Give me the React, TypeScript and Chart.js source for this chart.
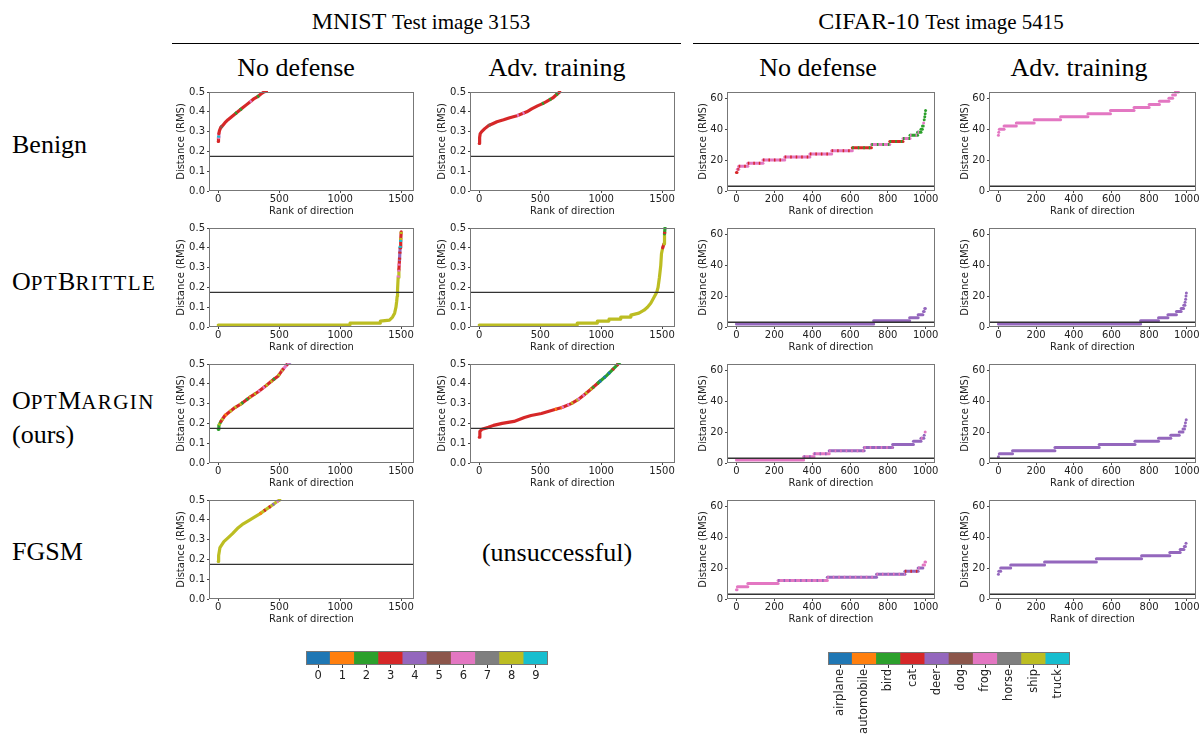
import React, { useEffect, useRef } from 'react';
import { Chart, registerables } from 'chart.js';

// ---------- colours (matplotlib tab10) ----------
const TAB10 = ['#1f77b4', '#ff7f0e', '#2ca02c', '#d62728', '#9467bd', '#8c564b', '#e377c2', '#7f7f7f', '#bcbd22', '#17becf'];

// ---------- axes ----------
const mnistRankTicks = [0, 500, 1000, 1500];
const cifarRankTicks = [0, 200, 400, 600, 800, 1000];
const mnistDistTicks = [0, 0.1, 0.2, 0.3, 0.4, 0.5];
const cifarDistTicks = [0, 20, 40, 60];
const mnistRankRange = [-76, 1606];
const cifarRankRange = [-50, 1049];
const mnistDistRange = [0, 0.5];
const cifarDistRange = [0, 64];
const mnistThreshold = 0.175;
const cifarThreshold = 3.1;

// ---------- MNIST curves: rank, distance, main class of each segment, mixed-in class (-1 none) ----------
const mnistNoDefBenignRank = [0, 2, 5, 10, 20, 35, 55, 80, 110, 140, 170, 200, 230, 260, 290, 320, 350, 375, 395];
const mnistNoDefBenignDist = [0.25, 0.27, 0.29, 0.305, 0.32, 0.33, 0.345, 0.36, 0.375, 0.39, 0.405, 0.42, 0.435, 0.45, 0.465, 0.475, 0.49, 0.5, 0.505];
const mnistNoDefBenignCls = [3, 6, 3, 3, 3, 3, 3, 3, 3, 3, 3, 3, 3, 3, 3, 3, 3, 3];
const mnistNoDefBenignMix = [-1, 9, -1, -1, 5, -1, -1, -1, -1, 2, 2, -1, -1, 6, -1, 2, -1, -1];

const mnistAdvBenignRank = [0, 3, 8, 20, 45, 75, 110, 145, 200, 250, 310, 350, 390, 430, 478, 515, 547, 575, 603, 630, 660];
const mnistAdvBenignDist = [0.24, 0.27, 0.29, 0.3, 0.315, 0.33, 0.34, 0.35, 0.36, 0.37, 0.38, 0.39, 0.4, 0.415, 0.43, 0.44, 0.45, 0.46, 0.47, 0.485, 0.5];
const mnistAdvBenignCls = [3, 3, 3, 3, 3, 3, 3, 3, 3, 3, 3, 3, 3, 3, 3, 3, 3, 3, 3, 3];
const mnistAdvBenignMix = [-1, -1, -1, -1, -1, 5, -1, -1, -1, -1, 6, 6, -1, -1, -1, 2, -1, 2, -1, 2];

const mnistNoDefBrittleRank = [0, 1080, 1082, 1328, 1330, 1405, 1430, 1447, 1458, 1464, 1468, 1471, 1476, 1482, 1487, 1492, 1497, 1501];
const mnistNoDefBrittleDist = [0.01, 0.01, 0.02, 0.02, 0.03, 0.035, 0.05, 0.07, 0.1, 0.13, 0.155, 0.19, 0.25, 0.29, 0.34, 0.4, 0.44, 0.48];
const mnistNoDefBrittleCls = [8, 8, 8, 8, 8, 8, 8, 8, 8, 8, 8, 8, 8, 3, 4, 3, 3];
const mnistNoDefBrittleMix = [-1, -1, -1, -1, -1, -1, -1, -1, -1, -1, -1, -1, 6, 6, 3, 9, 8];

const mnistAdvBrittleRank = [0, 802, 804, 967, 969, 1063, 1065, 1159, 1161, 1242, 1244, 1310, 1352, 1380, 1407, 1434, 1456, 1467, 1478, 1489, 1495, 1505, 1516, 1520, 1524];
const mnistAdvBrittleDist = [0.01, 0.01, 0.02, 0.02, 0.03, 0.03, 0.04, 0.04, 0.05, 0.05, 0.06, 0.07, 0.085, 0.1, 0.12, 0.15, 0.175, 0.2, 0.25, 0.31, 0.37, 0.4, 0.42, 0.47, 0.5];
const mnistAdvBrittleCls = [8, 8, 8, 8, 8, 8, 8, 8, 8, 8, 8, 8, 8, 8, 8, 8, 8, 8, 8, 8, 8, 3, 8, 2];
const mnistAdvBrittleMix = [-1, -1, -1, -1, -1, -1, -1, -1, -1, -1, -1, -1, -1, -1, -1, -1, -1, -1, -1, -1, -1, -1, -1, 3];

const mnistNoDefMarginRank = [0, 5, 22, 55, 96, 137, 191, 254, 328, 391, 451, 492, 527, 568, 590];
const mnistNoDefMarginDist = [0.17, 0.19, 0.21, 0.24, 0.26, 0.28, 0.3, 0.33, 0.36, 0.39, 0.42, 0.44, 0.47, 0.5, 0.51];
const mnistNoDefMarginCls = [2, 2, 3, 3, 3, 3, 3, 3, 3, 3, 3, 3, 6, 4];
const mnistNoDefMarginMix = [-1, 8, 8, 1, 8, 8, 2, 8, 6, 8, 2, 8, 3, 6];

const mnistAdvMarginRank = [0, 5, 22, 75, 117, 188, 285, 370, 425, 510, 565, 620, 678, 755, 810, 872, 930, 986, 1042, 1092, 1140, 1170];
const mnistAdvMarginDist = [0.13, 0.16, 0.17, 0.18, 0.19, 0.2, 0.21, 0.23, 0.24, 0.25, 0.26, 0.27, 0.28, 0.3, 0.32, 0.35, 0.38, 0.41, 0.44, 0.47, 0.5, 0.52];
const mnistAdvMarginCls = [3, 3, 3, 3, 3, 3, 3, 3, 3, 3, 3, 3, 3, 3, 3, 3, 3, 2, 2, 2, 2];
const mnistAdvMarginMix = [-1, -1, -1, -1, -1, -1, -1, -1, -1, -1, -1, 1, 6, 8, 6, 8, 2, 0, 0, 3, -1];

const mnistNoDefFgsmRank = [0, 3, 14, 46, 82, 117, 164, 205, 260, 300, 341, 375, 410, 445, 478, 505];
const mnistNoDefFgsmDist = [0.19, 0.22, 0.26, 0.29, 0.31, 0.33, 0.36, 0.38, 0.4, 0.415, 0.43, 0.445, 0.46, 0.475, 0.49, 0.5];
const mnistNoDefFgsmCls = [8, 8, 8, 8, 8, 8, 8, 8, 8, 8, 8, 8, 8, 8, 8];
const mnistNoDefFgsmMix = [-1, -1, -1, -1, -1, -1, -1, -1, -1, -1, 1, 3, 3, 4, 6];

// ---------- CIFAR-10 steps: [first rank, last rank, distance, class, mixed-in class or -1] ----------
type Step = [number, number, number, number, number];

const cifarNoDefBenign: Step[] = [
  [0, 3, 12, 3, -1], [5, 12, 14, 6, 3], [12, 60, 16, 6, 3], [60, 140, 18, 6, 3], [140, 255, 20, 6, 3],
  [255, 388, 22, 6, 3], [388, 503, 24, 6, 3], [503, 612, 26, 6, 3], [612, 713, 28, 3, 2], [713, 810, 30, 6, 2],
  [810, 880, 32, 3, 2], [880, 917, 34, 6, 2], [917, 957, 36, 2, 6], [957, 975, 38, 2, 6], [975, 982, 40, 2, -1],
  [983, 987, 42, 2, -1], [989, 990, 44, 6, -1], [992, 993, 46, 2, -1], [995, 996, 48, 2, -1], [997, 998, 50, 2, -1], [999, 1000, 52, 2, -1],
];
const cifarAdvBenign: Step[] = [
  [0, 1, 36, 6, -1], [2, 3, 38, 6, -1], [5, 30, 40, 6, -1], [30, 95, 42, 6, -1], [95, 190, 44, 6, -1],
  [190, 330, 46, 6, -1], [330, 475, 48, 6, -1], [475, 595, 50, 6, -1], [595, 720, 52, 6, -1], [720, 800, 54, 6, -1],
  [800, 855, 56, 6, -1], [855, 905, 58, 6, -1], [905, 925, 60, 6, -1], [925, 940, 62, 6, -1], [940, 955, 64, 6, -1],
];
const cifarNoDefBrittle: Step[] = [
  [0, 725, 2, 4, -1], [725, 915, 4, 4, -1], [915, 960, 6, 4, -1], [960, 985, 8, 4, -1], [988, 992, 10, 4, -1], [995, 998, 12, 4, -1],
];
const cifarAdvBrittle: Step[] = [
  [0, 755, 2, 4, -1], [755, 850, 4, 4, -1], [850, 900, 6, 4, -1], [900, 945, 8, 4, -1], [945, 970, 10, 4, -1],
  [970, 983, 12, 4, -1], [984, 990, 14, 4, -1], [991, 993, 16, 4, -1], [994, 995, 18, 4, -1], [996, 997, 20, 4, -1], [998, 999, 22, 4, -1],
];
const cifarNoDefMargin: Step[] = [
  [0, 355, 2, 6, -1], [355, 410, 4, 6, 4], [410, 490, 6, 6, 4], [490, 675, 8, 4, 6], [675, 825, 10, 4, 6],
  [825, 935, 12, 4, -1], [935, 975, 14, 4, -1], [975, 990, 16, 4, 6], [992, 995, 18, 4, -1], [997, 999, 20, 6, -1],
];
const cifarAdvMargin: Step[] = [
  [0, 3, 4, 4, -1], [5, 75, 6, 4, -1], [75, 300, 8, 4, -1], [300, 535, 10, 4, -1], [535, 725, 12, 4, -1],
  [725, 850, 14, 4, -1], [850, 915, 16, 4, -1], [915, 960, 18, 4, -1], [960, 980, 20, 4, -1], [980, 988, 22, 4, -1],
  [989, 992, 24, 4, -1], [993, 995, 26, 4, -1], [997, 999, 28, 4, -1],
];
const cifarNoDefFgsm: Step[] = [
  [0, 3, 6, 6, -1], [5, 60, 8, 6, -1], [60, 220, 10, 6, -1], [220, 480, 12, 6, 4], [480, 740, 14, 4, 6],
  [740, 890, 16, 4, 6], [890, 960, 18, 4, 3], [960, 985, 20, 4, 6], [986, 994, 22, 6, -1], [996, 999, 24, 6, -1],
];
const cifarAdvFgsm: Step[] = [
  [0, 1, 16, 4, -1], [2, 12, 18, 4, -1], [12, 65, 20, 4, -1], [65, 245, 22, 4, -1], [245, 520, 24, 4, -1],
  [520, 760, 26, 4, -1], [760, 910, 28, 4, -1], [910, 965, 30, 4, -1], [965, 985, 32, 4, -1], [987, 993, 34, 4, -1], [996, 999, 36, 4, -1],
];

// ---------- colour bars ----------
const mnistClasses = ['0', '1', '2', '3', '4', '5', '6', '7', '8', '9'];
const cifarClasses = ['airplane', 'automobile', 'bird', 'cat', 'deer', 'dog', 'frog', 'horse', 'ship', 'truck'];
const cellValue = 1;

// ---------- layout ----------
const COL_LEFT = [209, 470, 727, 989];
const COL_W = [205, 205, 208, 207];
const ROW_TOP = [92, 228, 364, 500];
const PLOT_H = 99;
const Y_AXIS_W = 36;
const X_AXIS_H = 26;
const PAD_TOP = 10;
const PAD_RIGHT = 14;

const TICK_FONT = { family: 'DejaVu Sans', size: 10 };
const SERIF = '"Liberation Serif", "DejaVu Serif", serif';
const CLEAR = 'rgba(0,0,0,0)';

const framePlugin = {
  id: 'frame',
  afterDraw(chart: any) {
    const { ctx, chartArea: a } = chart;
    ctx.save();
    ctx.strokeStyle = '#777';
    ctx.lineWidth = 1;
    ctx.strokeRect(Math.round(a.left) + 0.5, Math.round(a.top) + 0.5, Math.round(a.right - a.left) - 1, Math.round(a.bottom - a.top) - 1);
    ctx.restore();
  },
};

Chart.register(...registerables, framePlugin);

interface Curve { rank: number[]; dist: number[]; cls: number[]; mix: number[] }
interface Panel { col: number; row: number; kind: 'mnist' | 'cifar'; curve?: Curve; steps?: Step[] }

const panels: Panel[] = [
  { col: 0, row: 0, kind: 'mnist', curve: { rank: mnistNoDefBenignRank, dist: mnistNoDefBenignDist, cls: mnistNoDefBenignCls, mix: mnistNoDefBenignMix } },
  { col: 1, row: 0, kind: 'mnist', curve: { rank: mnistAdvBenignRank, dist: mnistAdvBenignDist, cls: mnistAdvBenignCls, mix: mnistAdvBenignMix } },
  { col: 2, row: 0, kind: 'cifar', steps: cifarNoDefBenign },
  { col: 3, row: 0, kind: 'cifar', steps: cifarAdvBenign },
  { col: 0, row: 1, kind: 'mnist', curve: { rank: mnistNoDefBrittleRank, dist: mnistNoDefBrittleDist, cls: mnistNoDefBrittleCls, mix: mnistNoDefBrittleMix } },
  { col: 1, row: 1, kind: 'mnist', curve: { rank: mnistAdvBrittleRank, dist: mnistAdvBrittleDist, cls: mnistAdvBrittleCls, mix: mnistAdvBrittleMix } },
  { col: 2, row: 1, kind: 'cifar', steps: cifarNoDefBrittle },
  { col: 3, row: 1, kind: 'cifar', steps: cifarAdvBrittle },
  { col: 0, row: 2, kind: 'mnist', curve: { rank: mnistNoDefMarginRank, dist: mnistNoDefMarginDist, cls: mnistNoDefMarginCls, mix: mnistNoDefMarginMix } },
  { col: 1, row: 2, kind: 'mnist', curve: { rank: mnistAdvMarginRank, dist: mnistAdvMarginDist, cls: mnistAdvMarginCls, mix: mnistAdvMarginMix } },
  { col: 2, row: 2, kind: 'cifar', steps: cifarNoDefMargin },
  { col: 3, row: 2, kind: 'cifar', steps: cifarAdvMargin },
  { col: 0, row: 3, kind: 'mnist', curve: { rank: mnistNoDefFgsmRank, dist: mnistNoDefFgsmDist, cls: mnistNoDefFgsmCls, mix: mnistNoDefFgsmMix } },
  { col: 2, row: 3, kind: 'cifar', steps: cifarNoDefFgsm },
  { col: 3, row: 3, kind: 'cifar', steps: cifarAdvFgsm },
];

function subplotConfig(p: Panel): any {
  const isM = p.kind === 'mnist';
  const xr = isM ? mnistRankRange : cifarRankRange;
  const yr = isM ? mnistDistRange : cifarDistRange;
  const xt = isM ? mnistRankTicks : cifarRankTicks;
  const yt = isM ? mnistDistTicks : cifarDistTicks;
  const thr = isM ? mnistThreshold : cifarThreshold;
  const paint: any[] = [];
  if (p.curve) {
    const { rank, dist, cls, mix } = p.curve;
    const pts = rank.map((r, i) => ({ x: r, y: dist[i] }));
    paint.push({
      data: pts,
      borderColor: TAB10[cls[0]],
      segment: { borderColor: (c: any) => TAB10[cls[c.p0DataIndex]] },
      borderWidth: 3.2, pointRadius: 0, borderCapStyle: 'round', borderJoinStyle: 'round', clip: 1,
    });
    paint.push({
      data: pts,
      borderColor: CLEAR,
      segment: { borderColor: (c: any) => (mix[c.p0DataIndex] >= 0 ? TAB10[mix[c.p0DataIndex]] : CLEAR) },
      borderWidth: 3.2, borderDash: [2, 4], pointRadius: 0, borderCapStyle: 'butt', clip: 1,
    });
  }
  if (p.steps) {
    for (const [s, e, lvl, base, ov] of p.steps) {
      const pts = [{ x: s, y: lvl }, { x: e, y: lvl }];
      paint.push({ data: pts, borderColor: TAB10[base], borderWidth: 3, borderCapStyle: 'round', pointRadius: 0, clip: 1 });
      if (ov >= 0) {
        paint.push({ data: pts, borderColor: TAB10[ov], borderWidth: 3, borderDash: [1.5, 4], borderCapStyle: 'butt', pointRadius: 0, clip: 1 });
      }
    }
  }
  paint.push({ data: [{ x: -5000, y: thr }, { x: 5000, y: thr }], borderColor: '#333', borderWidth: 1.4, pointRadius: 0, clip: 0 });
  return {
    type: 'line',
    data: { datasets: paint.reverse() },
    options: {
      responsive: false,
      animation: false,
      events: [],
      layout: { padding: { top: PAD_TOP, right: PAD_RIGHT, left: 0, bottom: 0 } },
      plugins: { legend: { display: false }, tooltip: { enabled: false } },
      scales: {
        x: {
          type: 'linear', min: xr[0], max: xr[1],
          afterBuildTicks: (s: any) => { s.ticks = xt.map((v) => ({ value: v })); },
          afterFit: (s: any) => { s.height = X_AXIS_H; },
          ticks: { font: TICK_FONT, color: '#222', padding: 0, maxRotation: 0, autoSkip: false, callback: (v: any) => String(v) },
          grid: { drawOnChartArea: false, drawTicks: true, tickLength: 2, color: '#444' },
          border: { display: false },
          title: { display: true, text: 'Rank of direction', font: TICK_FONT, color: '#222', padding: { top: 0, bottom: 0 } },
        },
        y: {
          type: 'linear', min: yr[0], max: yr[1],
          afterBuildTicks: (s: any) => { s.ticks = yt.map((v) => ({ value: v })); },
          afterFit: (s: any) => { s.width = Y_AXIS_W; },
          ticks: { font: TICK_FONT, color: '#222', padding: 2, autoSkip: false, callback: (v: any) => (isM ? Number(v).toFixed(1) : String(v)) },
          grid: { drawOnChartArea: false, drawTicks: true, tickLength: 2, color: '#444' },
          border: { display: false },
          title: { display: true, text: 'Distance (RMS)', font: TICK_FONT, color: '#222', padding: { top: isM ? 2 : 6, bottom: 0 } },
        },
      },
    },
  };
}

function Subplot({ p }: { p: Panel }) {
  const ref = useRef<HTMLCanvasElement>(null);
  const w = Y_AXIS_W + COL_W[p.col] + PAD_RIGHT;
  const h = PAD_TOP + PLOT_H + X_AXIS_H;
  useEffect(() => {
    const chart = new Chart(ref.current as HTMLCanvasElement, subplotConfig(p));
    return () => chart.destroy();
  }, []);
  return (
    <canvas
      ref={ref}
      width={w}
      height={h}
      style={{ position: 'absolute', left: COL_LEFT[p.col] - Y_AXIS_W, top: ROW_TOP[p.row] - PAD_TOP, width: w, height: h }}
    />
  );
}

function ColorBar({ labels, left, top, width, height, rot, axisH }: { labels: string[]; left: number; top: number; width: number; height: number; rot: number; axisH: number }) {
  const ref = useRef<HTMLCanvasElement>(null);
  const padL = 20, padR = 20, padT = 4;
  const w = padL + width + padR;
  const h = padT + height + axisH;
  useEffect(() => {
    const chart = new Chart(ref.current as HTMLCanvasElement, {
      type: 'bar',
      data: {
        labels,
        datasets: [{ data: labels.map(() => cellValue), backgroundColor: TAB10, borderWidth: 0, barPercentage: 1, categoryPercentage: 1 }],
      },
      options: {
        responsive: false,
        animation: false,
        events: [],
        layout: { padding: { left: padL, right: padR, top: padT, bottom: 0 } },
        plugins: { legend: { display: false }, tooltip: { enabled: false } },
        scales: {
          x: {
            type: 'category',
            afterFit: (s: any) => { s.height = axisH; },
            grid: { drawOnChartArea: false, offset: false, drawTicks: true, tickLength: 3, color: '#333' },
            border: { display: false },
            ticks: { font: { family: 'DejaVu Sans', size: 11.5 }, color: '#222', padding: 1, autoSkip: false, minRotation: rot, maxRotation: rot },
          },
          y: { display: false, min: 0, max: 1 },
        },
      } as any,
    });
    return () => chart.destroy();
  }, []);
  return <canvas ref={ref} width={w} height={h} style={{ position: 'absolute', left: left - padL, top: top - padT, width: w, height: h }} />;
}

function Txt({ x, y, size, children, align = 'center' }: { x: number; y: number; size: number; children: any; align?: 'center' | 'left' }) {
  return (
    <div
      style={{
        position: 'absolute', left: x, top: y, fontSize: size, lineHeight: 1, whiteSpace: 'nowrap', color: '#000',
        fontFamily: SERIF, transform: align === 'center' ? 'translate(-50%, -50%)' : 'translate(0, -50%)',
      }}
    >
      {children}
    </div>
  );
}

const sc = { fontSize: 21, letterSpacing: 1.4 };
const big = { fontSize: 26 };

export default function App() {
  return (
    <div style={{ position: 'absolute', left: 0, top: 0, width: 1199, height: 734, overflow: 'hidden', background: '#fff' }}>
      <Txt x={421} y={21} size={24}>MNIST <span style={{ fontSize: 21 }}>Test image 3153</span></Txt>
      <Txt x={941} y={21} size={24}>CIFAR-10 <span style={{ fontSize: 21 }}>Test image 5415</span></Txt>
      <div style={{ position: 'absolute', left: 172, top: 43, width: 509, height: 1, background: '#000' }} />
      <div style={{ position: 'absolute', left: 693, top: 43, width: 506, height: 1, background: '#000' }} />

      <Txt x={296} y={68} size={26}>No defense</Txt>
      <Txt x={557} y={68} size={26}>Adv. training</Txt>
      <Txt x={818} y={68} size={26}>No defense</Txt>
      <Txt x={1079} y={68} size={26}>Adv. training</Txt>

      <Txt x={12} y={145} size={26} align="left">Benign</Txt>
      <Txt x={12} y={282} size={26} align="left">
        <span style={big}>O</span><span style={sc}>PT</span><span style={big}>B</span><span style={sc}>RITTLE</span>
      </Txt>
      <Txt x={12} y={401} size={26} align="left">
        <span style={big}>O</span><span style={sc}>PT</span><span style={big}>M</span><span style={sc}>ARGIN</span>
      </Txt>
      <Txt x={12} y={435} size={26} align="left">(ours)</Txt>
      <Txt x={12} y={552} size={26} align="left">FGSM</Txt>
      <Txt x={557} y={553} size={26}>(unsuccessful)</Txt>

      {panels.map((p, i) => <Subplot key={i} p={p} />)}

      <ColorBar labels={mnistClasses} left={306} top={651} width={242} height={14} rot={0} axisH={22} />
      <ColorBar labels={cifarClasses} left={828} top={652} width={242} height={13} rot={90} axisH={80} />
    </div>
  );
}
